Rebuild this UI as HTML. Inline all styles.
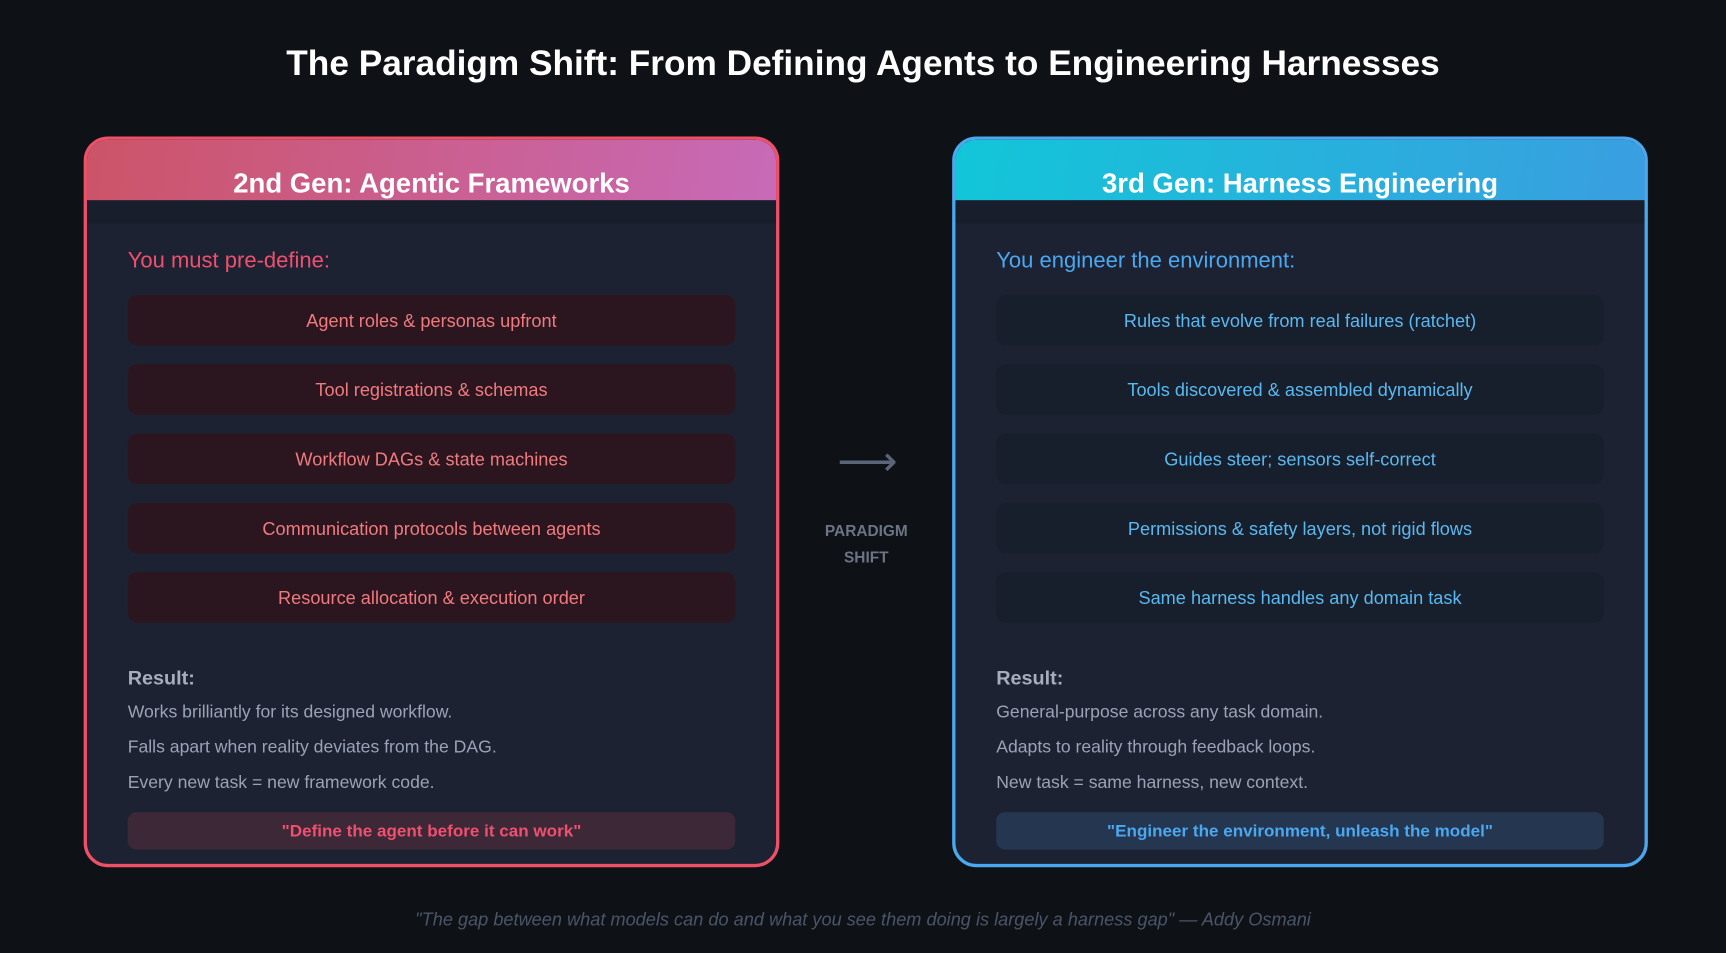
<!DOCTYPE html>
<html><head><meta charset="utf-8"><style>
html,body{margin:0;padding:0;background:#0e1217;width:1726px;height:953px;overflow:hidden}
#w{position:absolute;left:0;top:0;width:1568px;height:866px;transform:scale(1.10077,1.1005);transform-origin:0 0;font-family:"Liberation Sans",sans-serif}
.t{position:absolute;left:0;width:1568px;text-align:center}
.card{position:absolute;top:124px;width:626px;height:658px;border:3px solid;border-radius:22px;background:#1d2232;overflow:hidden}
.hd{position:absolute;left:0;top:0;width:100%;height:55px;text-align:center;color:#fff;font-weight:bold;font-size:25px;line-height:26px;box-sizing:border-box;padding-top:27px}
.strip{position:absolute;left:0;top:55px;width:100%;height:21px;background:#181e2b}
.h2{position:absolute;left:37px;top:99px;font-size:20px}
.it{position:absolute;left:37px;width:552px;height:46px;border-radius:9px;text-align:center;line-height:48px;font-size:16.5px}
.rs{position:absolute;left:37px;font-size:16px;color:#9aa3b5}
.q{position:absolute;left:37px;top:611px;width:552px;height:34px;border-radius:8px;text-align:center;line-height:36px;font-weight:bold;font-size:15.5px}
</style></head><body><div id="w">
<div class="t" style="top:39px;font-size:32px;font-weight:bold;color:#fff">The Paradigm Shift: From Defining Agents to Engineering Harnesses</div>

<div class="card" style="left:76px;border-color:#ee5068">
<div class="hd" style="background:linear-gradient(100deg,#cc5468,#c86ab8)">2nd Gen: Agentic Frameworks</div>
<div class="strip"></div>
<div class="h2" style="color:#f0506e">You must pre-define:</div>
<div class="it" style="top:141px;background:#2b1620;color:#f07a7e">Agent roles &amp; personas upfront</div>
<div class="it" style="top:204px;background:#2b1620;color:#f07a7e">Tool registrations &amp; schemas</div>
<div class="it" style="top:267px;background:#2b1620;color:#f07a7e">Workflow DAGs &amp; state machines</div>
<div class="it" style="top:330px;background:#2b1620;color:#f07a7e">Communication protocols between agents</div>
<div class="it" style="top:393px;background:#2b1620;color:#f07a7e">Resource allocation &amp; execution order</div>
<div class="rs" style="top:479px;font-weight:bold;font-size:18px;color:#a6adbb">Result:</div>
<div class="rs" style="top:512px">Works brilliantly for its designed workflow.</div>
<div class="rs" style="top:544px">Falls apart when reality deviates from the DAG.</div>
<div class="rs" style="top:576px">Every new task = new framework code.</div>
<div class="q" style="background:#3d2838;color:#f0506e">"Define the agent before it can work"</div>
</div>

<div class="card" style="left:865px;border-color:#4aa8f0">
<div class="hd" style="background:linear-gradient(100deg,#12c6d8,#3a9ee0)">3rd Gen: Harness Engineering</div>
<div class="strip"></div>
<div class="h2" style="color:#4aa8f0">You engineer the environment:</div>
<div class="it" style="top:141px;background:#161f2b;color:#5ab8f0">Rules that evolve from real failures (ratchet)</div>
<div class="it" style="top:204px;background:#161f2b;color:#5ab8f0">Tools discovered &amp; assembled dynamically</div>
<div class="it" style="top:267px;background:#161f2b;color:#5ab8f0">Guides steer; sensors self-correct</div>
<div class="it" style="top:330px;background:#161f2b;color:#5ab8f0">Permissions &amp; safety layers, not rigid flows</div>
<div class="it" style="top:393px;background:#161f2b;color:#5ab8f0">Same harness handles any domain task</div>
<div class="rs" style="top:479px;font-weight:bold;font-size:18px;color:#a6adbb">Result:</div>
<div class="rs" style="top:512px">General-purpose across any task domain.</div>
<div class="rs" style="top:544px">Adapts to reality through feedback loops.</div>
<div class="rs" style="top:576px">New task = same harness, new context.</div>
<div class="q" style="background:#253650;color:#4aa8f0">"Engineer the environment, unleash the model"</div>
</div>

<div style="position:absolute;left:738px;top:400px;width:100px;text-align:center;font-size:38px;color:#5a6578;line-height:40px">⟶</div>
<div style="position:absolute;left:728px;top:470px;width:118px;text-align:center;font-size:14px;font-weight:bold;color:#6b7585;line-height:24px">PARADIGM<br>SHIFT</div>

<div class="t" style="top:827px;font-size:16.5px;font-style:italic;color:#4a5568">"The gap between what models can do and what you see them doing is largely a harness gap" — Addy Osmani</div>
</div></body></html>
